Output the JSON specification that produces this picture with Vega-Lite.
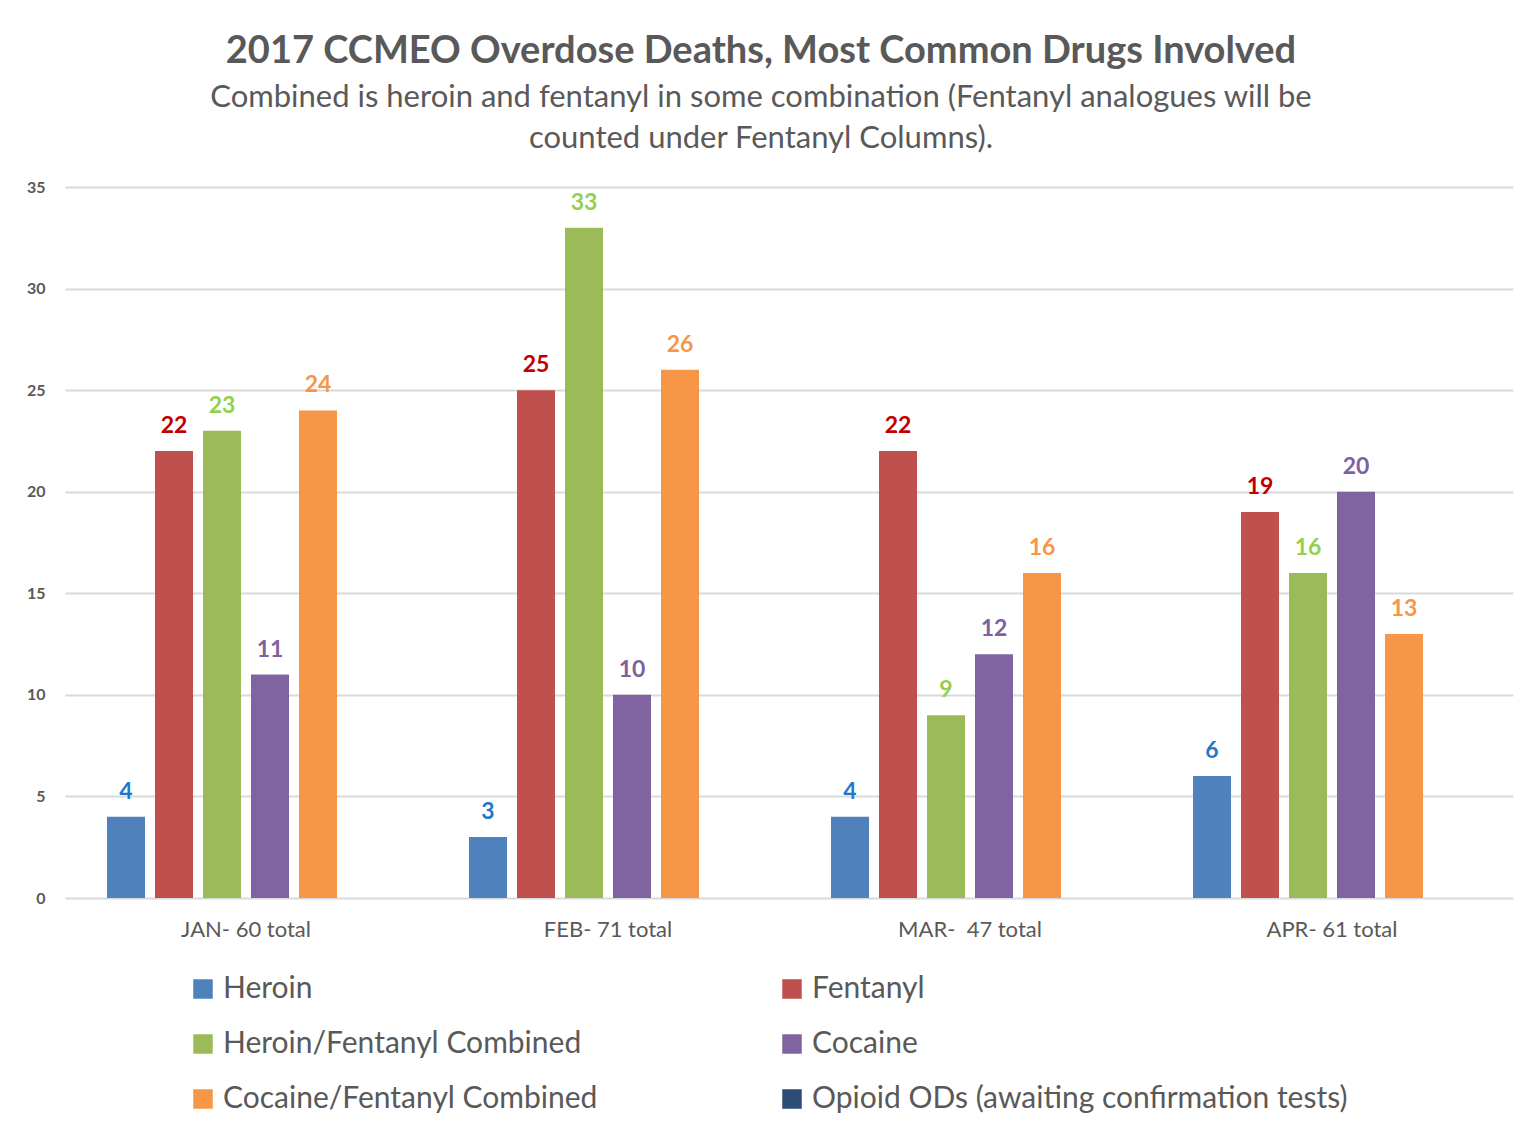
{
  "$schema": "https://vega.github.io/schema/vega-lite/v6.json",
  "width": 1448,
  "height": 711,
  "autosize": {"type": "none"},
  "padding": {"left": 65, "top": 187, "right": 12, "bottom": 228},
  "background": "white",
  "title": {
    "text": "2017 CCMEO Overdose Deaths, Most Common Drugs Involved",
    "subtitle": ["Combined is heroin and fentanyl in some combination (Fentanyl analogues will be", "counted under Fentanyl Columns)."],
    "anchor": "middle",
    "frame": "group",
    "dx": -28,
    "offset": 25,
    "font": "Lato",
    "fontSize": 38,
    "fontWeight": "bold",
    "color": "#595959",
    "subtitleFont": "Lato",
    "subtitleFontSize": 31,
    "subtitleColor": "#595959",
    "subtitleLineHeight": 41,
    "subtitlePadding": 12
  },
  "data": {
    "values": [
      {"month": "JAN- 60 total", "drug": "Heroin", "deaths": 4},
      {"month": "JAN- 60 total", "drug": "Fentanyl", "deaths": 22},
      {"month": "JAN- 60 total", "drug": "Heroin/Fentanyl Combined", "deaths": 23},
      {"month": "JAN- 60 total", "drug": "Cocaine", "deaths": 11},
      {"month": "JAN- 60 total", "drug": "Cocaine/Fentanyl Combined", "deaths": 24},
      {"month": "FEB- 71 total", "drug": "Heroin", "deaths": 3},
      {"month": "FEB- 71 total", "drug": "Fentanyl", "deaths": 25},
      {"month": "FEB- 71 total", "drug": "Heroin/Fentanyl Combined", "deaths": 33},
      {"month": "FEB- 71 total", "drug": "Cocaine", "deaths": 10},
      {"month": "FEB- 71 total", "drug": "Cocaine/Fentanyl Combined", "deaths": 26},
      {"month": "MAR-\u00a0 47 total", "drug": "Heroin", "deaths": 4},
      {"month": "MAR-\u00a0 47 total", "drug": "Fentanyl", "deaths": 22},
      {"month": "MAR-\u00a0 47 total", "drug": "Heroin/Fentanyl Combined", "deaths": 9},
      {"month": "MAR-\u00a0 47 total", "drug": "Cocaine", "deaths": 12},
      {"month": "MAR-\u00a0 47 total", "drug": "Cocaine/Fentanyl Combined", "deaths": 16},
      {"month": "APR- 61 total", "drug": "Heroin", "deaths": 6},
      {"month": "APR- 61 total", "drug": "Fentanyl", "deaths": 19},
      {"month": "APR- 61 total", "drug": "Heroin/Fentanyl Combined", "deaths": 16},
      {"month": "APR- 61 total", "drug": "Cocaine", "deaths": 20},
      {"month": "APR- 61 total", "drug": "Cocaine/Fentanyl Combined", "deaths": 13}
    ]
  },
  "encoding": {
    "x": {
      "field": "month",
      "type": "nominal",
      "sort": null,
      "scale": {"paddingInner": 0, "paddingOuter": 0},
      "axis": {
        "title": null,
        "labelAngle": 0,
        "labelFont": "Lato",
        "labelFontSize": 22,
        "labelColor": "#595959",
        "labelPadding": 21,
        "ticks": false,
        "domain": false
      }
    },
    "xOffset": {
      "field": "drug",
      "type": "nominal",
      "scale": {
        "domain": ["Heroin", "Fentanyl", "Heroin/Fentanyl Combined", "Cocaine", "Cocaine/Fentanyl Combined", "Opioid ODs (awaiting confirmation tests)"],
        "paddingInner": 0.208,
        "paddingOuter": 0.875
      }
    },
    "y": {
      "field": "deaths",
      "type": "quantitative",
      "scale": {"domain": [0, 35]},
      "axis": {
        "title": null,
        "values": [0, 5, 10, 15, 20, 25, 30, 35],
        "labelFont": "Lato",
        "labelFontSize": 16,
        "labelFontWeight": "bold",
        "labelColor": "#595959",
        "labelPadding": 20,
        "ticks": false,
        "domain": false,
        "grid": true,
        "gridColor": "#d9d9d9",
        "gridWidth": 2
      }
    }
  },
  "layer": [
    {
      "mark": {"type": "bar"},
      "encoding": {
        "color": {
          "field": "drug",
          "type": "nominal",
          "scale": {
            "domain": ["Heroin", "Fentanyl", "Heroin/Fentanyl Combined", "Cocaine", "Cocaine/Fentanyl Combined", "Opioid ODs (awaiting confirmation tests)"],
            "range": ["#4f81bd", "#c0504d", "#9bbb59", "#8064a2", "#f79646", "#2c4d75"]
          },
          "legend": {
            "title": null,
            "orient": "none",
            "legendX": 123,
            "legendY": 787,
            "direction": "horizontal",
            "columns": 2,
            "columnPadding": 179,
            "rowPadding": 25,
            "padding": 0,
            "symbolType": "square",
            "symbolSize": 380,
            "symbolStrokeWidth": 0,
            "symbolOpacity": 1,
            "labelOffset": 5,
            "labelFont": "Lato",
            "labelFontSize": 30,
            "labelColor": "#595959",
            "labelLimit": 700
          }
        }
      }
    },
    {
      "mark": {"type": "text", "baseline": "alphabetic", "dy": -18, "font": "Lato", "fontSize": 23, "fontWeight": "bold"},
      "encoding": {
        "text": {"field": "deaths", "type": "quantitative"},
        "color": {
          "field": "drug",
          "type": "nominal",
          "scale": {
            "domain": ["Heroin", "Fentanyl", "Heroin/Fentanyl Combined", "Cocaine", "Cocaine/Fentanyl Combined"],
            "range": ["#2277cc", "#c00000", "#92d050", "#7f60a0", "#f79646"]
          },
          "legend": null
        }
      }
    }
  ],
  "resolve": {"scale": {"color": "independent"}},
  "config": {"view": {"stroke": null}}
}
